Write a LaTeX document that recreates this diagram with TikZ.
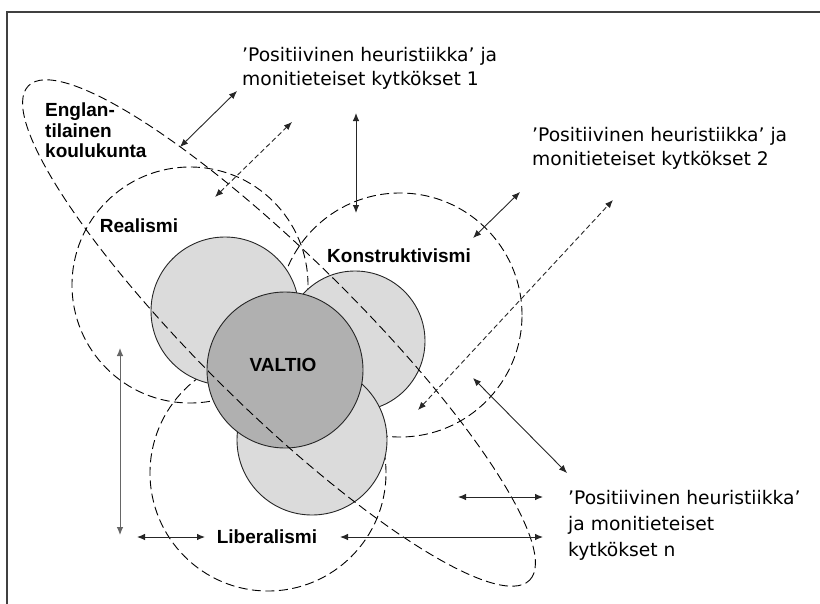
\documentclass[tikz,border=0pt]{standalone}
\usepackage{fontspec}
\setmainfont{Liberation Sans}
\newfontfamily\heurfont{DejaVu Sans}
\usepackage{tikz}
\usetikzlibrary{shapes.geometric, arrows.meta, positioning}
\tikzstyle{school} = [circle, draw=black, dash pattern=on 9pt off 4.5pt, line width=0.9pt, inner sep=0pt]
\tikzstyle{theory} = [circle, draw=black!85, fill=gray!28, line width=0.9pt, inner sep=0pt]
\tikzstyle{statedisc} = [circle, draw=black!85, fill=gray!62, line width=0.9pt, inner sep=0pt, font=\bfseries\fontsize{19}{19}\selectfont]
\tikzstyle{schoolname} = [inner sep=0pt, align=left, font=\bfseries\fontsize{19}{20.5}\selectfont]
\tikzstyle{heuristic} = [inner sep=0pt, anchor=north west, align=left, font=\heurfont\fontsize{18.7}{24}\selectfont]
\tikzstyle{arrow} = [line width=0.9pt, black!85, <->, >={Latex[length=8pt,width=6.5pt]}]
\tikzstyle{dasharrow} = [arrow, dash pattern=on 5pt off 3pt]

\begin{document}
\begin{tikzpicture}[x=1pt, y=-1pt]
	\useasboundingbox (0,0) rectangle (820,603);
	\clip (0,0) rectangle (820,603);
	\draw [line width=1.6pt, black!75] (7,12) rectangle (840,640);

	% Schools of thought
	\node (realismi) [school, minimum size=236pt] at (190,285) {};
	\node (konstruktivismi) [school, minimum size=244pt] at (400,315) {};
	\node (liberalismi) [school, minimum size=236pt] at (268,473) {};

	% Theory discs and the state
	\node (konstrdisc) [theory, minimum size=140pt] at (355,341) {};
	\node (liberdisc) [theory, minimum size=150pt] at (312,440) {};
	\node (realdisc) [theory, minimum size=148pt] at (225,311) {};
	\node (valtio) [statedisc, minimum size=156pt] at (285,370) {};
	\node (valtiolabel) [inner sep=0pt, font=\bfseries\fontsize{19}{19}\selectfont] at (283,365) {VALTIO};

	% English school
	\node (englanti) [ellipse, draw=black, dash pattern=on 9pt off 4.5pt, line width=0.9pt, inner sep=0pt,
		minimum width=704pt, minimum height=154pt, rotate=-44.6] at (279,333) {};

	% Labels
	\node (englantilabel) [schoolname, anchor=north west] at (45,103) {Englan-\\tilainen\\koulukunta};
	\node (realismilabel) [schoolname] at (139,226) {Realismi};
	\node (konstrlabel) [schoolname] at (399,256) {Konstruktivismi};
	\node (liberlabel) [schoolname] at (267,537) {Liberalismi};

	\node (heurone) [heuristic] at (242,47) {’Positiivinen heuristiikka’ ja\\monitieteiset kytkökset 1};
	\node (heurtwo) [heuristic] at (532,127) {’Positiivinen heuristiikka’ ja\\monitieteiset kytkökset 2};
	\node (heurn) [heuristic, font=\heurfont\fontsize{18.7}{26}\selectfont] at (568,490) {’Positiivinen heuristiikka’\\ja monitieteiset\\kytkökset n};

	% Arrow ends
	\coordinate (ea) at (180,147);  \coordinate (eb) at (237,91);
	\coordinate (ra) at (215,197);  \coordinate (rb) at (292,122);
	\coordinate (ka) at (356,113);  \coordinate (kb) at (356,213);
	\coordinate (ta) at (473,238);  \coordinate (tb) at (520,192);
	\coordinate (da) at (418,410);  \coordinate (db) at (613,200);
	\coordinate (na) at (473,378);  \coordinate (nb) at (567,473);
	\coordinate (ha) at (458,497);  \coordinate (hb) at (543,497);
	\coordinate (la) at (340,537);  \coordinate (lb) at (543,537);
	\coordinate (wa) at (137,537);  \coordinate (wb) at (205,537);
	\coordinate (va) at (120,348);  \coordinate (vb) at (120,535);

	% Arrows
	\draw [arrow] (ea) -- (eb);
	\draw [dasharrow] (ra) -- (rb);
	\draw [arrow] (ka) -- (kb);
	\draw [arrow] (ta) -- (tb);
	\draw [dasharrow] (da) -- (db);
	\draw [arrow] (na) -- (nb);
	\draw [arrow] (ha) -- (hb);
	\draw [arrow] (la) -- (lb);
	\draw [arrow] (wa) -- (wb);
	\draw [arrow, black!60] (va) -- (vb);

\end{tikzpicture}
\end{document}
